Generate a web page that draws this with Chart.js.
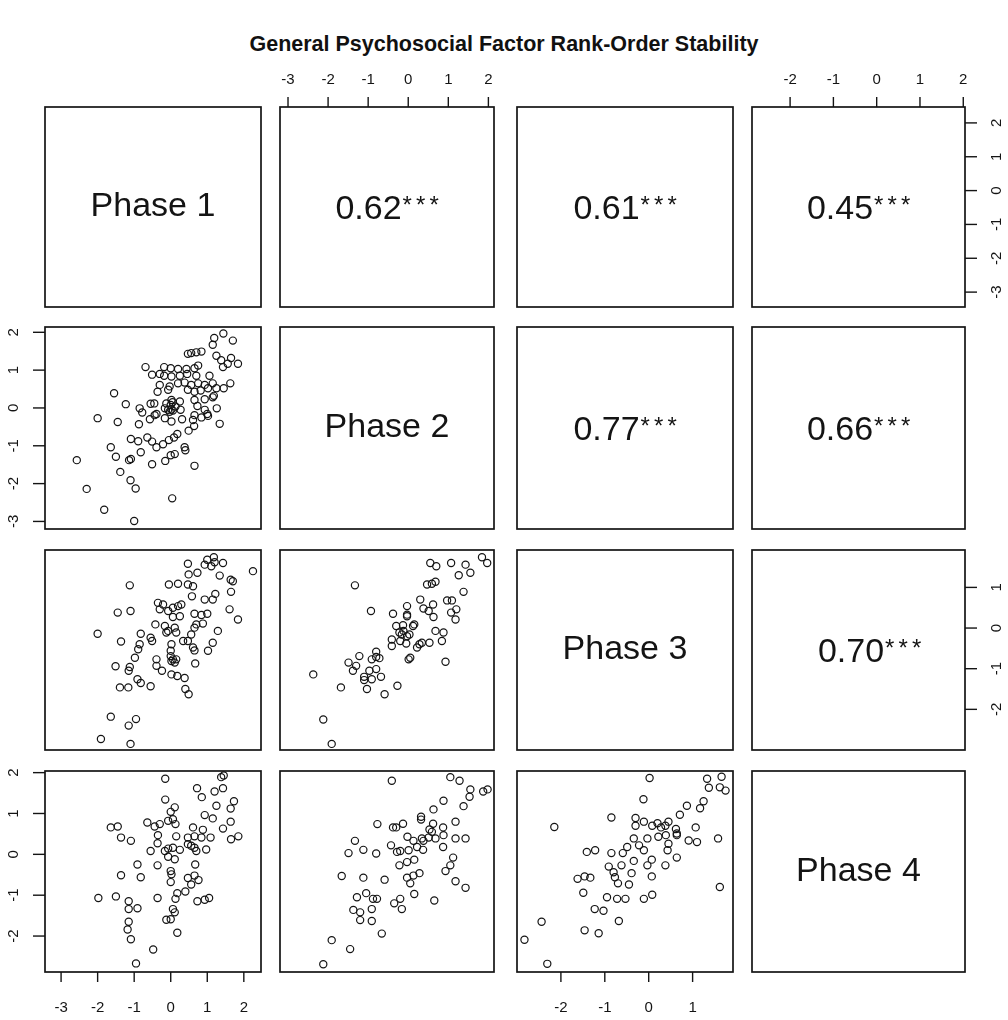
<!DOCTYPE html>
<html>
<head>
<meta charset="utf-8">
<title>General Psychosocial Factor Rank-Order Stability</title>
<script src="https://cdn.jsdelivr.net/npm/chart.js@4.4.1/dist/chart.umd.min.js"></script>
<style>
  html, body { margin: 0; padding: 0; background: #fff; }
  body { width: 1008px; height: 1020px; position: relative; overflow: hidden;
         font-family: "Liberation Sans", Arial, Helvetica, sans-serif; }
  #title { position: absolute; left: 0; top: 32px; width: 1008px; text-align: center;
           font-weight: bold; font-size: 21.5px; color: #111; }
  canvas { position: absolute; }
</style>
</head>
<body>
<div id="title">General Psychosocial Factor Rank-Order Stability</div>
<script>
// ---- Variables ----
const phaseNames = ['Phase 1', 'Phase 2', 'Phase 3', 'Phase 4'];

// axis limits of each phase score
const rangeP1 = [-3.44, 2.47];
const rangeP2 = [-3.20, 2.14];
const rangeP3 = [-3.00, 1.92];
const rangeP4 = [-2.88, 2.04];

// tick labels of each phase axis
const ticksP1 = [-3, -2, -1, 0, 1, 2];
const ticksP2 = [-3, -2, -1, 0, 1, 2];
const ticksP3 = [-2, -1, 0, 1];
const ticksP4 = [-2, -1, 0, 1, 2];

// rank-order correlations (upper triangle), significance marks
const corrPhase1 = [0.62, 0.61, 0.45];   // with Phase 2, 3, 4
const corrPhase2 = [0.77, 0.66];         // with Phase 3, 4
const corrPhase3 = [0.70];               // with Phase 4
const signif = '***';

// ---- Paired scores, [x, y] ----
// Phase 1 (x) vs Phase 2 (y)
const scoresP1P2 = [
  [1.70,1.78],[1.15,1.67],[1.19,1.85],[1.44,1.97],
  [0.47,1.43],[0.56,1.45],[0.70,1.47],[0.84,1.49],
  [1.25,1.38],[1.38,1.26],[1.65,1.32],[1.84,1.17],[1.43,1.08],[1.56,1.17],
  [-0.69,1.08],[-0.18,1.08],[0.00,1.05],[0.20,1.03],[0.43,1.03],[0.65,1.05],[0.75,1.12],
  [-0.51,0.88],[-0.30,0.90],[-0.18,0.85],[0.02,0.83],[0.25,0.85],[0.45,0.90],[0.70,0.85],[1.06,0.85],
  [-0.30,0.61],[-0.03,0.57],[0.20,0.65],[0.38,0.67],[0.56,0.61],[0.75,0.65],[0.93,0.61],[1.15,0.65],[1.25,0.52],[1.45,0.52],[1.63,0.65],
  [-0.36,0.43],[-0.07,0.48],[0.47,0.48],[0.65,0.43],[0.82,0.46],[1.02,0.52],
  [-1.55,0.39],[-1.23,0.10],
  [-0.55,0.11],[-0.45,0.12],[-0.12,0.12],[0.02,0.21],[0.25,0.17],[0.65,0.21],[0.73,0.05],[0.93,0.23],[1.15,0.28],[1.18,0.32],
  [-0.85,-0.01],[-0.78,-0.12],[-0.39,-0.16],[-0.16,-0.01],[-0.07,-0.05],[0.02,-0.04],[0.06,-0.07],[0.13,0.04],[0.27,-0.05],[0.65,-0.19],[0.93,-0.05],[1.00,-0.16],[1.26,-0.01],
  [0.00,0.08],[0.05,0.15],[-0.03,-0.10],
  [-2.00,-0.27],[-1.45,-0.37],
  [-0.57,-0.30],[-0.44,-0.19],[-0.16,-0.27],[0.02,-0.36],[0.31,-0.30],[0.61,-0.32],[0.84,-0.25],[1.02,-0.21],
  [1.34,-0.42],[-0.87,-0.43],[0.49,-0.60],[0.64,-0.48],
  [-1.09,-0.82],[-0.89,-0.88],[-0.64,-0.78],[-0.51,-0.89],[-0.39,-1.04],[-0.21,-0.96],[-0.05,-0.85],[0.09,-0.78],[0.18,-0.69],
  [-1.64,-1.04],[0.38,-1.04],[0.40,-1.12],[-1.50,-1.29],[-1.14,-1.38],[-1.09,-1.35],[-0.82,-1.17],[0.00,-1.25],[0.11,-1.22],
  [-2.57,-1.38],[-0.51,-1.49],[-0.15,-1.40],[0.65,-1.53],[-1.38,-1.69],[-1.10,-1.91],[-0.96,-2.13],[-2.30,-2.14],[0.04,-2.39],[-1.82,-2.69],[-1.00,-2.99]
];

// Phase 1 (x) vs Phase 3 (y)
const scoresP1P3 = [
  [-1.12,1.05],[-0.05,1.07],[0.20,1.09],[0.47,1.07],[0.61,1.03],[0.49,1.32],[0.73,1.36],[0.47,1.58],[0.93,1.56],[1.00,1.68],[1.18,1.74],[1.20,1.62],[1.43,1.60],[1.11,1.52],[1.34,1.29],[1.64,1.19],[1.70,1.15],[1.65,0.89],[2.25,1.40],[0.58,0.78],[0.93,0.70],[1.22,0.84],[1.15,0.70],
  [-1.45,0.38],[-1.10,0.42],[-2.00,-0.14],[-1.36,-0.33],
  [-0.35,0.62],[-0.21,0.58],[-0.30,0.46],[-0.07,0.42],[0.06,0.50],[0.20,0.54],[0.29,0.58],[0.25,0.29],[0.06,0.27],
  [0.65,0.35],[0.84,0.32],[1.00,0.35],[0.70,0.09],[0.88,0.11],[0.65,0.01],[0.56,-0.16],[1.29,-0.07],[1.61,0.46],[1.84,0.21],
  [-0.42,0.09],[-0.16,0.05],[-0.12,-0.11],[-0.07,-0.07],[0.11,0.01],[0.15,-0.11],[-0.82,-0.14],[-0.55,-0.24],[-0.51,-0.32],[-0.85,-0.40],[-0.89,-0.52],[-0.98,-0.73],
  [0.02,-0.40],[0.00,-0.56],[0.00,-0.69],[0.06,-0.77],[0.02,-0.81],[0.11,-0.85],[0.15,-0.77],[0.34,-0.32],[0.47,-0.32],[0.61,-0.48],[0.65,-0.55],[1.02,-0.56],[1.15,-0.36],[0.67,-0.87],
  [-0.39,-0.77],[-0.39,-0.93],[-0.24,-1.05],[0.02,-1.14],[0.18,-1.18],[0.38,-1.23],[0.40,-1.50],[0.49,-1.63],
  [-1.51,-0.94],[-1.12,-0.96],[-1.15,-1.05],[-0.91,-1.26],[-0.82,-1.35],[-1.39,-1.46],[-1.16,-1.46],[-0.55,-1.43],
  [-1.64,-2.18],[-0.95,-2.24],[-1.15,-2.40],[-1.91,-2.73],[-1.10,-2.85]
];

// Phase 1 (x) vs Phase 4 (y)
const scoresP1P4 = [
  [-0.15,1.85],[0.72,1.62],[0.85,1.40],[1.20,1.54],[1.43,1.62],[1.38,1.89],[1.45,1.93],[-0.15,1.34],[1.73,1.30],[1.25,1.19],[1.64,1.12],[0.93,0.96],[1.15,0.88],[0.00,1.04],[0.11,1.15],[1.64,0.80],
  [-1.64,0.66],[-1.45,0.68],[-0.64,0.78],[-0.44,0.68],[-0.30,0.74],[-0.07,0.82],[0.06,0.86],[0.13,0.74],[0.61,0.66],[0.88,0.60],[1.43,0.63],
  [-1.36,0.41],[-1.09,0.33],[-0.35,0.47],[0.15,0.44],[0.47,0.41],[0.65,0.44],[0.84,0.41],[1.09,0.41],[1.65,0.37],[1.85,0.44],
  [-0.55,0.08],[-0.36,0.27],[-0.16,0.08],[-0.07,0.14],[0.06,0.16],[0.25,0.11],[0.47,0.25],[0.56,0.21],[0.65,0.16],[0.70,0.08],[0.97,0.12],[0.11,-0.12],[-0.07,-0.06],
  [-0.91,-0.25],[-0.36,-0.27],[-1.36,-0.51],[-0.82,-0.56],[0.00,-0.41],[0.02,-0.49],[0.00,-0.68],[0.67,-0.25],[0.65,-0.52],[0.47,-0.58],[0.56,-0.74],[0.40,-0.91],[0.76,-0.63],[0.18,-0.95],
  [-1.98,-1.07],[-1.50,-1.03],[-0.36,-1.07],[0.13,-1.09],[-1.15,-1.15],[-1.15,-1.34],[-0.91,-1.32],[0.06,-1.34],[0.11,-1.42],[0.73,-1.15],[0.93,-1.11],[1.05,-1.07],
  [-0.12,-1.60],[0.00,-1.59],[-1.15,-1.65],[-1.18,-1.84],[-1.09,-2.08],[0.18,-1.92],[-0.48,-2.33],[-0.95,-2.67]
];

// Phase 2 (x) vs Phase 3 (y)
const scoresP2P3 = [
  [-1.33,1.05],[0.55,1.60],[0.70,1.52],[1.07,1.60],[1.43,1.56],[1.55,1.36],[1.26,1.30],[1.84,1.74],[1.97,1.60],[0.47,1.07],[0.59,1.09],[0.68,1.14],[1.38,0.89],[0.30,0.70],[0.97,0.68],[1.09,0.68],
  [0.62,0.58],[0.38,0.48],[0.51,0.42],[0.63,0.27],[1.20,0.46],[1.07,0.38],[1.18,0.21],[-0.93,0.42],[-0.38,0.35],[-0.03,0.54],[-0.03,0.33],[-0.03,0.29],
  [-0.30,0.05],[-0.13,0.07],[0.12,0.05],[0.15,0.09],[-0.22,-0.11],[-0.16,-0.16],[-0.12,-0.07],[-0.03,-0.20],[0.03,-0.16],
  [-0.41,-0.28],[-0.41,-0.44],[-0.20,-0.32],[-0.05,-0.38],[0.22,-0.48],[0.28,-0.40],[0.34,-0.36],[0.53,-0.36],[0.68,-0.07],[0.88,-0.11],[0.84,-0.32],
  [0.01,-0.77],[0.05,-0.73],[0.93,-0.83],[-0.80,-0.58],[-0.80,-0.71],[-0.72,-0.74],[-0.91,-0.77],[-1.22,-0.69],
  [-1.49,-0.85],[-1.30,-0.93],[-1.38,-1.05],[-0.97,-1.05],[-0.80,-1.01],[-1.10,-1.20],[-1.10,-1.28],[-0.91,-1.26],[-1.03,-1.50],[-0.68,-1.20],
  [-2.37,-1.14],[-1.68,-1.46],[-0.27,-1.42],[-0.59,-1.63],[-2.12,-2.25],[-1.91,-2.85]
];

// Phase 2 (x) vs Phase 4 (y)
const scoresP2P4 = [
  [-0.41,1.80],[1.05,1.89],[1.28,1.80],[1.55,1.59],[1.53,1.41],[1.38,1.18],[1.87,1.54],[1.98,1.59],[0.88,1.31],[0.63,1.10],
  [-0.77,0.74],[-0.38,0.66],[-0.30,0.66],[-0.13,0.75],[0.32,0.92],[0.32,0.85],[0.62,0.75],[1.18,0.80],[0.53,0.61],[0.59,0.55],[0.87,0.66],
  [-0.02,0.43],[0.34,0.39],[0.88,0.47],[1.18,0.39],[1.43,0.39],[-1.33,0.33],
  [-1.49,0.03],[-1.12,0.11],[-0.80,0.02],[-0.43,0.22],[-0.28,0.06],[-0.20,0.08],[0.01,0.10],[0.13,0.33],[0.22,0.18],[0.37,0.11],[0.38,0.33],[0.51,0.41],[0.68,0.39],[0.87,0.18],
  [-0.22,-0.27],[-0.03,-0.19],[0.15,-0.13],[1.12,-0.08],[1.05,-0.27],[0.93,-0.41],[-1.66,-0.53],[-1.12,-0.57],[-0.59,-0.62],[-0.03,-0.57],[0.05,-0.71],[0.13,-0.52],[0.28,-0.46],[1.18,-0.66],[1.43,-0.82],
  [-1.05,-0.95],[-0.88,-1.09],[-0.78,-1.09],[-1.28,-1.05],[-0.35,-1.20],[-0.20,-1.09],[-0.16,-1.34],[0.15,-0.97],[0.65,-1.13],
  [-1.37,-1.36],[-1.20,-1.42],[-1.20,-1.61],[-0.91,-1.34],[-0.91,-1.63],[-0.66,-1.94],[-1.91,-2.10],[-1.45,-2.32],[-2.12,-2.69]
];

// Phase 3 (x) vs Phase 4 (y)
const scoresP3P4 = [
  [0.02,1.87],[1.33,1.85],[1.66,1.90],[1.37,1.63],[1.62,1.64],[1.75,1.56],[-0.12,1.35],[0.87,1.19],[1.25,1.30],[1.17,1.13],[0.71,0.97],[-0.85,0.90],[-2.15,0.67],
  [-0.30,0.89],[-0.30,0.70],[-0.11,0.80],[0.08,0.70],[0.20,0.76],[0.28,0.66],[0.45,0.80],[0.38,0.70],[0.62,0.62],[0.64,0.51],[1.07,0.66],
  [-0.34,0.39],[-0.03,0.39],[0.22,0.43],[0.39,0.47],[0.64,0.47],[0.91,0.34],[1.10,0.30],[1.58,0.39],
  [-1.41,0.06],[-1.22,0.10],[-0.85,0.03],[-0.59,0.03],[-0.49,0.18],[-0.22,0.22],[-0.34,-0.16],[-0.03,-0.27],[0.07,-0.13],[-0.11,0.10],[0.45,0.26],[0.43,0.10],[0.64,-0.08],[0.38,-0.27],
  [-0.91,-0.30],[-0.80,-0.44],[-0.62,-0.27],[-1.62,-0.60],[-1.46,-0.54],[-1.33,-0.57],[-0.77,-0.56],[-0.70,-0.71],[-0.39,-0.46],[-0.45,-0.74],[0.07,-0.54],
  [-1.49,-0.94],[-0.95,-1.05],[-0.72,-1.09],[-0.53,-1.09],[-0.11,-1.09],[0.08,-0.99],[-1.23,-1.34],[-1.03,-1.38],[-0.68,-1.63],[-2.44,-1.65],[-1.46,-1.86],[-1.14,-1.93],[-2.83,-2.09],[-2.31,-2.68],[1.62,-0.80]
];

// ---- Layout of the 4 x 4 matrix (pixels) ----
const colLeft  = [45, 280, 517, 752];
const colRight = [261, 494, 733, 965];
const rowTop    = [107, 327, 550, 771];
const rowBottom = [307, 529, 750, 972];
const MARGIN = 50;
const INK = '#141414';
const FONT = '"Liberation Sans", Arial, Helvetica, sans-serif';

const ranges = [rangeP1, rangeP2, rangeP3, rangeP4];
const ticks  = [ticksP1, ticksP2, ticksP3, ticksP4];
const corrRows = [corrPhase1, corrPhase2, corrPhase3];
const lowerScores = {
  '1,0': scoresP1P2, '2,0': scoresP1P3, '3,0': scoresP1P4,
  '2,1': scoresP2P3, '3,1': scoresP2P4, '3,2': scoresP3P4
};
// small horizontal nudges of the correlation texts
const corrNudge = { '2,3': 11 };

// Border, outer axes and panel texts, drawn on the chart's own scales
const panelDecor = {
  id: 'panelDecor',
  afterDatasetsDraw(chart, args, o) {
    const { ctx, chartArea: a } = chart;
    const xs = chart.scales.x, ys = chart.scales.y;
    const TICK = 10;
    ctx.save();
    ctx.strokeStyle = INK;
    ctx.fillStyle = INK;
    ctx.lineWidth = 1.7;
    ctx.strokeRect(a.left, a.top, a.right - a.left, a.bottom - a.top);

    ctx.lineWidth = 1.4;
    ctx.font = '15px ' + FONT;
    ctx.textAlign = 'center';
    ctx.textBaseline = 'middle';
    const line = (x1, y1, x2, y2) => { ctx.beginPath(); ctx.moveTo(x1, y1); ctx.lineTo(x2, y2); ctx.stroke(); };

    if (o.top) o.top.forEach(v => {
      const px = xs.getPixelForValue(v);
      line(px, a.top, px, a.top - TICK);
      ctx.fillText(String(v), px, a.top - 27);
    });
    if (o.bottom) o.bottom.forEach(v => {
      const px = xs.getPixelForValue(v);
      line(px, a.bottom, px, a.bottom + TICK);
      ctx.fillText(String(v), px, a.bottom + 36);
    });
    if (o.left) o.left.forEach(v => {
      const py = ys.getPixelForValue(v);
      line(a.left, py, a.left - 12, py);
      ctx.save(); ctx.translate(a.left - 31, py); ctx.rotate(-Math.PI / 2);
      ctx.fillText(String(v), 0, 0); ctx.restore();
    });
    if (o.right) o.right.forEach(v => {
      const py = ys.getPixelForValue(v);
      line(a.right, py, a.right + 12, py);
      ctx.save(); ctx.translate(a.right + 32, py); ctx.rotate(-Math.PI / 2);
      ctx.fillText(String(v), 0, 0); ctx.restore();
    });

    const cx = (a.left + a.right) / 2, cy = (a.top + a.bottom) / 2;
    if (o.name) {
      ctx.font = '34px ' + FONT;
      ctx.textBaseline = 'middle';
      ctx.fillText(o.name, cx, cy);
    }
    if (o.r !== undefined) {
      const num = o.r.toFixed(2);
      ctx.font = '34px ' + FONT;
      const wNum = ctx.measureText(num).width;
      const STAR_GAP = 13.5;
      const wStars = STAR_GAP * (o.stars.length - 1) + 9;
      const total = wNum + 1 + wStars;
      const x0 = cx - total / 2 + (o.dx || 0);
      const base = cy + 12;
      ctx.textAlign = 'left';
      ctx.textBaseline = 'alphabetic';
      ctx.fillText(num, x0, base);
      ctx.font = '24px ' + FONT;
      for (let i = 0; i < o.stars.length; i++) {
        ctx.fillText(o.stars[i], x0 + wNum + 1 + i * STAR_GAP, base - 6);
      }
    }
    ctx.restore();
  }
};

function makePanel(r, c) {
  const w = colRight[c] - colLeft[c], h = rowBottom[r] - rowTop[r];
  const cv = document.createElement('canvas');
  cv.width = w + 2 * MARGIN; cv.height = h + 2 * MARGIN;
  cv.style.left = (colLeft[c] - MARGIN) + 'px';
  cv.style.top = (rowTop[r] - MARGIN) + 'px';
  cv.style.width = cv.width + 'px'; cv.style.height = cv.height + 'px';
  document.body.appendChild(cv);

  const deco = {};
  if (r === 0 && c % 2 === 1) deco.top = ticks[c];
  if (r === 3 && c % 2 === 0) deco.bottom = ticks[c];
  if (c === 0 && r % 2 === 1) deco.left = ticks[r];
  if (c === 3 && r % 2 === 0) deco.right = ticks[r];
  if (r === c) deco.name = phaseNames[r];
  if (c > r) {
    deco.r = corrRows[r][c - r - 1];
    deco.stars = signif;
    deco.dx = corrNudge[r + ',' + c] || 0;
  }

  const pts = r > c ? lowerScores[r + ',' + c].map(([x, y]) => ({ x, y })) : [];

  new Chart(cv, {
    type: 'scatter',
    data: {
      datasets: [{
        data: pts,
        pointStyle: 'circle',
        pointRadius: 3.6,
        pointHoverRadius: 3.6,
        pointBorderWidth: 1.2,
        pointBorderColor: INK,
        pointBackgroundColor: 'rgba(0,0,0,0)'
      }]
    },
    options: {
      responsive: false,
      animation: false,
      devicePixelRatio: 1,
      events: [],
      layout: { padding: MARGIN },
      plugins: { legend: { display: false }, tooltip: { enabled: false }, panelDecor: deco },
      scales: {
        x: { type: 'linear', min: ranges[c][0], max: ranges[c][1], display: false },
        y: { type: 'linear', min: ranges[r][0], max: ranges[r][1], display: false }
      }
    },
    plugins: [panelDecor]
  });
}

for (let r = 0; r < 4; r++) for (let c = 0; c < 4; c++) makePanel(r, c);
</script>
</body>
</html>
